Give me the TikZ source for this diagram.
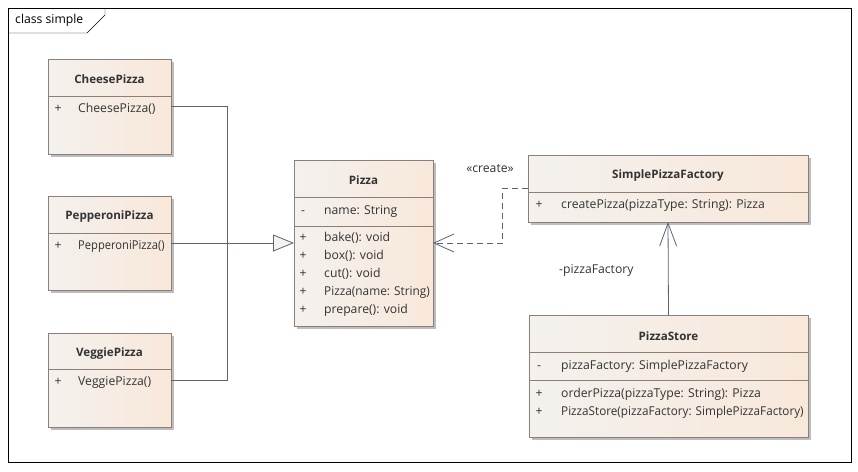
\documentclass[tikz,border=0pt]{standalone}
\usepackage{fontspec}
\usepackage{graphicx}
\setmainfont{Open Sans}
\usetikzlibrary{arrows.meta,shadows}

\definecolor{boxline}{HTML}{8C7F7A}
\definecolor{boxlight}{HTML}{F4F1EE}
\definecolor{boxdark}{HTML}{F8E8DA}
\definecolor{umltext}{HTML}{333333}
\definecolor{linkcol}{HTML}{5A6478}
\definecolor{shadowcol}{HTML}{BDBDBD}

\newcommand{\squeeze}[2]{\scalebox{#1}[1]{#2}}

\tikzset{
    classbox/.style={draw=boxline, left color=boxlight, right color=boxdark,
        anchor=north west, inner sep=0pt, outer sep=0pt,
        drop shadow={shadow xshift=3pt, shadow yshift=-3pt, fill=shadowcol, opacity=1}},
    classname/.style={font=\fontsize{11.6}{14}\selectfont\bfseries, text=umltext},
    member/.style={anchor=west, text=umltext, inner sep=0pt, text height=8.5pt, text depth=2.5pt},
    vis/.style={text=umltext, inner sep=0pt, text height=8.5pt, text depth=2.5pt},
    divider/.style={draw=boxline},
    link/.style={draw=linkcol, thick},
}

\begin{document}
\begin{tikzpicture}[x=1pt, y=-1pt, font=\fontsize{12.2}{14}\selectfont]

    \useasboundingbox[fill=white] (0,0) rectangle (858,471);

    % frame
    \draw (8,8) rectangle (851,462);
    \draw (8,33) -- (87,33) -- (105,15) -- (105,8);
    \node[anchor=west, inner sep=0pt] (frametag) at (15,20) {class simple};

    % subclasses
    \node[classbox, minimum width=123pt, minimum height=95pt] (cheese) at (48,59) {};
    \node[classname] (cheesename) at (109.5,79.5) {CheesePizza};
    \draw[divider] (48,96.5) -- (171,96.5);
    \node[vis] (cheesev1) at (58,109.5) {+};
    \node[member] (cheesem1) at (78,109.5) {CheesePizza()};

    \node[classbox, minimum width=123pt, minimum height=94pt] (pepperoni) at (48,196) {};
    \node[classname] (pepperoniname) at (109.5,216.5) {PepperoniPizza};
    \draw[divider] (48,233.5) -- (171,233.5);
    \node[vis] (pepperoniv1) at (58,246.5) {+};
    \node[member] (pepperonim1) at (78,246.5) {\squeeze{0.915}{PepperoniPizza()}};

    \node[classbox, minimum width=123pt, minimum height=94pt] (veggie) at (48,333) {};
    \node[classname] (veggiename) at (109.5,353.5) {VeggiePizza};
    \draw[divider] (48,369.5) -- (171,369.5);
    \node[vis] (veggiev1) at (58,382.5) {+};
    \node[member] (veggiem1) at (78,382.5) {VeggiePizza()};

    % Pizza
    \node[classbox, minimum width=139pt, minimum height=166pt] (pizza) at (294,160) {};
    \node[classname] (pizzaname) at (363.5,180) {Pizza};
    \draw[divider] (294,197) -- (433,197);
    \node[vis] (pizzav0) at (303,211.5) {-};
    \node[member] (pizzaa1) at (324,211.5) {name: String};
    \draw[divider] (294,226) -- (433,226);
    \foreach \m [count=\i] in {bake(): void, box(): void, cut(): void, \squeeze{0.97}{Pizza(name: String)}, prepare(): void} {
        \node[vis] (pizzav\i) at (303,220.5+18*\i) {+};
        \node[member] (pizzam\i) at (324,220.5+18*\i) {\m};
    }

    % factory
    \node[classbox, minimum width=280pt, minimum height=67pt] (factory) at (528,155) {};
    \node[classname] (factoryname) at (668,175.5) {SimplePizzaFactory};
    \draw[divider] (528,192) -- (808,192);
    \node[vis] (factoryv1) at (539,205) {+};
    \node[member] (factorym1) at (561,205) {createPizza(pizzaType: String): Pizza};

    % store
    \node[classbox, minimum width=279pt, minimum height=122pt] (store) at (529,315) {};
    \node[classname] (storename) at (668.5,336) {PizzaStore};
    \draw[divider] (529,352) -- (808,352);
    \node[vis] (storev0) at (539,366) {-};
    \node[member] (storea1) at (561,366) {pizzaFactory: SimplePizzaFactory};
    \draw[divider] (529,380) -- (808,380);
    \node[vis] (storev1) at (539,394) {+};
    \node[member] (storem1) at (561,394) {orderPizza(pizzaType: String): Pizza};
    \node[vis] (storev2) at (539,412) {+};
    \node[member] (storem2) at (561,412) {\squeeze{0.96}{PizzaStore(pizzaFactory: SimplePizzaFactory)}};

    % connectors
    \coordinate (joint) at (227,243);
    \coordinate (bend) at (502,188.5);

    \begin{scope}[link]
        \draw (cheese.east) -| (joint);
        \draw (veggie.east) -| (joint);
        \draw [-{Triangle[open, length=21pt, width=17pt, fill=boxlight]}] (pepperoni.east) -- (pizza.west);
        \draw [dashed, dash pattern=on 6pt off 4pt, -{Straight Barb[length=20pt, width=18pt]}]
            (factory.west) -- (bend) |- (pizza.east);
        \draw [-{Straight Barb[length=23pt, width=17pt]}] (store.north) -- node[pos=0.48, left=31pt, text=umltext] (assoclabel) {-pizzaFactory} (factory.south);
    \end{scope}

    \node[text=umltext] (createlabel) at (490,169) {«create»};

\end{tikzpicture}
\end{document}
